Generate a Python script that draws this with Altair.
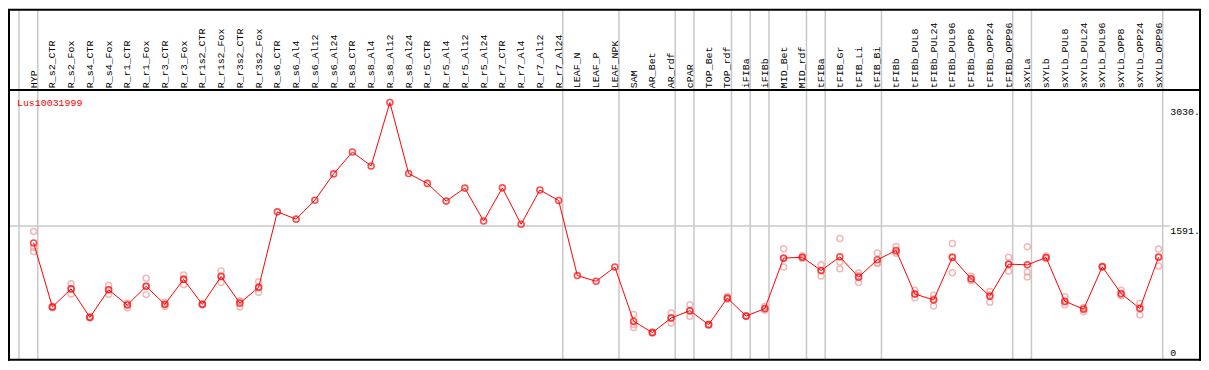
import altair as alt
import pandas as pd

gene = "Lus10031999"

samples = [
    "HYP", "R_s2_CTR", "R_s2_Fox", "R_s4_CTR", "R_s4_Fox", "R_r1_CTR", "R_r1_Fox",
    "R_r3_CTR", "R_r3_Fox", "R_r1s2_CTR", "R_r1s2_Fox", "R_r3s2_CTR", "R_r3s2_Fox",
    "R_s6_CTR", "R_s6_Al4", "R_s6_Al12", "R_s6_Al24", "R_s8_CTR", "R_s8_Al4",
    "R_s8_Al12", "R_s8_Al24", "R_r5_CTR", "R_r5_Al4", "R_r5_Al12", "R_r5_Al24",
    "R_r7_CTR", "R_r7_Al4", "R_r7_Al12", "R_r7_Al24", "LEAF_N", "LEAF_P", "LEAF_NPK",
    "SAM", "AR_Bet", "AR_rdf", "cPAR", "TOP_Bet", "TOP_rdf", "iFIBa", "iFIBb",
    "MID_Bet", "MID_rdf", "tFIBa", "tFIB_Gr", "tFIB_Li", "tFIB_Bi", "tFIBb",
    "tFIBb_PUL8", "tFIBb_PUL24", "tFIBb_PUL96", "tFIBb_OPP8", "tFIBb_OPP24", "tFIBb_OPP96",
    "sXYLa", "sXYLb", "sXYLb_PUL8", "sXYLb_PUL24", "sXYLb_PUL96", "sXYLb_OPP8",
    "sXYLb_OPP24", "sXYLb_OPP96",
]

means = [
    1387, 614, 832, 488, 821, 637, 863, 645, 947, 645, 982, 660, 851,
    1763, 1675, 1904, 2222, 2486, 2318, 3084, 2226, 2107, 1893, 2050, 1652,
    2053, 1613, 2027, 1901, 993, 924, 1096,
    442, 304, 480, 569, 400, 721, 503, 595, 1204, 1215, 1054, 1219, 974, 1184, 1296,
    771, 698, 1211, 955, 744, 1131, 1123, 1211, 683, 587, 1100, 775, 595, 1215,
]

replicates = [
    [1525, 1334, 1284], [614, 605, 623], [893, 771, 832], [488, 480, 496],
    [874, 767, 821], [603, 660, 648], [962, 763, 863], [620, 670, 645],
    [1001, 886, 955], [645, 640, 650], [1050, 909, 987], [614, 680, 686],
    [920, 790, 843],
    [], [], [], [], [], [], [], [], [], [], [], [], [], [], [], [], [], [], [],
    [522, 401, 365], [300, 310, 302], [541, 419, 480], [641, 500, 566],
    [400, 395, 405], [740, 710, 713], [503, 498, 508], [620, 575, 590],
    [1318, 1096, 1198], [1230, 1200, 1215], [1123, 989, 1050], [1441, 1158, 1074],
    [1024, 909, 990], [1265, 1139, 1148], [1345, 1280, 1263], [817, 725, 771],
    [756, 626, 712], [1380, 1028, 1225], [985, 930, 950], [802, 672, 758],
    [1215, 1046, 1132], [1341, 1035, 977], [1230, 1200, 1203], [736, 641, 672],
    [600, 557, 604], [1100, 1095, 1105], [817, 748, 760], [660, 518, 607],
    [1315, 1108, 1222],
]

# group separators are drawn after these sample positions (0 = before the first)
breaks_after = [0, 1, 29, 32, 35, 36, 38, 39, 40, 42, 43, 46, 53, 54, 61]

tick_values = [3030, 1591]
tick_labels = ["3030.", "1591."]
zero_label = "0"

# ---------------------------------------------------------------------------
W, H = 1201, 354
FONT = "Liberation Mono"
RED = "#ff0000"
PINK = "#ee9a9a"
GRAY = "#c8c8c8"

idx = list(range(1, len(samples) + 1))
df = pd.DataFrame({"idx": idx, "name": samples, "v": means})
rep_rows = [
    {"idx": i, "v": r} for i, reps in zip(idx, replicates) for r in reps
]
rep_df = pd.DataFrame(rep_rows)
sep_df = pd.DataFrame({"pos": [b + 0.22 for b in breaks_after]})
tick_df = pd.DataFrame({"v": tick_values, "label": tick_labels})
zero_df = pd.DataFrame({"v": [0], "label": [zero_label]})
grid_df = pd.DataFrame({"v": [tick_values[1]]})
one = pd.DataFrame({"a": [0]})

xs = alt.Scale(domain=[1, 61], range=[25.8, 1158.3], nice=False, zero=False)
ys = alt.Scale(domain=[0, 3030], range=[350.9, 98.5], nice=False, zero=False)
X = lambda f: alt.X(f, type="quantitative", scale=xs, axis=None)
Y = lambda f: alt.Y(f, type="quantitative", scale=ys, axis=None)

seps = alt.Chart(sep_df).mark_rule(color=GRAY, strokeWidth=1.5).encode(
    x=X("pos"), y=alt.value(0), y2=alt.value(H - 1)
)
grid = alt.Chart(grid_df).mark_rule(color=GRAY, strokeWidth=1.5).encode(
    y=Y("v"), x=alt.value(1), x2=alt.value(1170)
)
frame_top = alt.Chart(one).mark_rule(color="black", strokeWidth=2).encode(
    x=alt.value(0), x2=alt.value(W), y=alt.value(0.5)
)
frame_bottom = alt.Chart(one).mark_rule(color="black", strokeWidth=2).encode(
    x=alt.value(0), x2=alt.value(W), y=alt.value(H - 1)
)
frame_left = alt.Chart(one).mark_rule(color="black", strokeWidth=2).encode(
    x=alt.value(1), y=alt.value(0), y2=alt.value(H)
)
frame_right = alt.Chart(one).mark_rule(color="black", strokeWidth=2).encode(
    x=alt.value(W - 1), y=alt.value(0), y2=alt.value(H)
)
header_line = alt.Chart(one).mark_rule(color="black", strokeWidth=2).encode(
    x=alt.value(0), x2=alt.value(W), y=alt.value(81.3)
)

labels = alt.Chart(df).mark_text(
    angle=270, align="left", baseline="middle", font=FONT, fontSize=10, color="black"
).encode(x=X("idx"), y=alt.value(79.5), text="name:N")

title = alt.Chart(one).mark_text(
    align="left", baseline="top", font=FONT, fontSize=10, color=RED, text=gene
).encode(x=alt.value(9), y=alt.value(89))

ticks = alt.Chart(tick_df).mark_text(
    align="left", baseline="top", font=FONT, fontSize=10, color="black"
).encode(y=Y("v"), x=alt.value(1170), text="label:N")
zero = alt.Chart(zero_df).mark_text(
    align="left", baseline="bottom", font=FONT, fontSize=10, color="black"
).encode(y=Y("v"), x=alt.value(1170), text="label:N")

reps = alt.Chart(rep_df).mark_point(
    shape="circle", filled=False, size=36, strokeWidth=1.5, color=PINK
).encode(x=X("idx"), y=Y("v"))
line = alt.Chart(df).mark_line(color=RED, strokeWidth=1).encode(x=X("idx"), y=Y("v"))
pts = alt.Chart(df).mark_point(
    shape="circle", filled=False, size=36, strokeWidth=1.6, color=RED
).encode(x=X("idx"), y=Y("v"))

chart = alt.layer(
    seps, grid, header_line, frame_top, frame_bottom, frame_left, frame_right,
    labels, title, ticks, zero, reps, line, pts,
).properties(
    width=W, height=H, padding=0, autosize=alt.AutoSizeParams(type="none"),
    background="white",
).configure_view(stroke=None)

chart.save("out.html", embed_options={"renderer": "svg", "actions": False})
